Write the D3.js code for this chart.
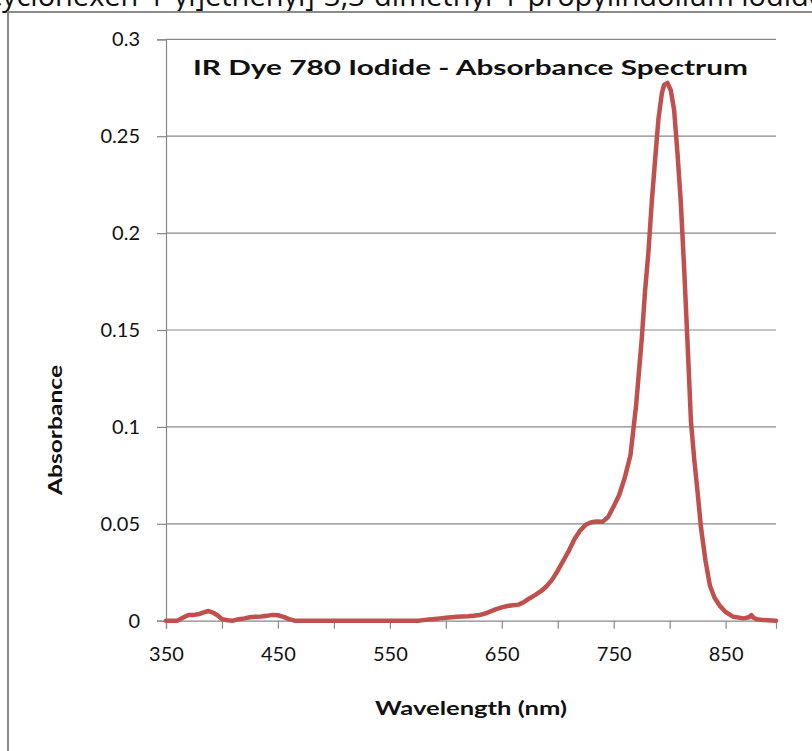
<!DOCTYPE html>
<html>
<head>
<meta charset="utf-8">
<script src="https://cdn.jsdelivr.net/npm/d3@7"></script>
<style>
  html, body { margin: 0; padding: 0; background: #fff; overflow: hidden; }
  svg { display: block; }
</style>
</head>
<body>
<svg id="chart" width="812" height="751"></svg>
<script>
// ---- data ----
const wavelengths = [350,355,360,365,370,375,380,385,388,392,396,400,405,410,415,420,425,430,435,440,445,450,455,460,465,
  480,500,520,540,560,575,580,585,590,595,600,605,610,615,620,625,630,635,640,645,650,655,660,665,670,675,680,685,690,695,
  700,705,710,715,720,725,730,735,740,745,750,755,760,765,770,775,778,781,784,787,790,793,795,798,801,804,807,810,813,816,
  819,822,825,828,832,836,840,845,850,857,866,871,873,875,878,884,895];
const absorbance = [0,0,0,0.0015,0.003,0.003,0.0035,0.0045,0.005,0.0042,0.0028,0.0008,0.0002,0,0.0008,0.0012,0.0018,0.002,0.0022,0.0025,0.003,0.0028,0.002,0.0008,0,
  0,0,0,0,0,0,0.0003,0.0006,0.0009,0.0012,0.0015,0.0018,0.002,0.0022,0.0023,0.0026,0.0029,0.0037,0.0048,0.006,0.0069,0.0076,0.008,0.0083,0.0097,0.0116,0.0133,0.0152,0.0178,0.0212,
  0.0258,0.031,0.0362,0.0422,0.0465,0.0495,0.0508,0.0512,0.051,0.0535,0.059,0.065,0.074,0.0855,0.111,0.145,0.17,0.19,0.216,0.238,0.259,0.272,0.2765,0.2775,0.2737,0.2634,0.241,0.2154,0.181,0.143,
  0.103,0.083,0.066,0.048,0.031,0.018,0.012,0.0075,0.0045,0.002,0.0012,0.0018,0.0029,0.0015,0.0007,0.0003,0];
const xTickLabels = [350,450,550,650,750,850];
const xMinorTicks = [350,400,450,500,550,600,650,700,750,800,850];
const yTickLabels = [0,0.05,0.1,0.15,0.2,0.25,0.3];
const chartTitle = "IR Dye 780 Iodide - Absorbance Spectrum";
const xTitle = "Wavelength (nm)";
const yTitle = "Absorbance";
const topCaption = "cyclohexen-1-yl]ethenyl]-3,3-dimethyl-1-propylindolium iodide";

// ---- layout ----
const svg = d3.select("#chart");
const plotLeft = 166, plotRight = 776, plotTop = 39.3, plotBottom = 620.7;
const x = d3.scaleLinear().domain([350, 895]).range([plotLeft, plotRight]);
const y = d3.scaleLinear().domain([0, 0.3]).range([plotBottom, plotTop]);
const font = "Lato, 'Open Sans', sans-serif";
const gray = "#878787";

// clipped caption line at very top (cut by the page edge, as in the reference)
svg.append("text")
  .attr("x", -12).attr("y", 6)
  .attr("font-family", "'Open Sans', sans-serif")
  .attr("font-size", 29)
  .attr("fill", "#111")
  .text(topCaption);

// chart border
svg.append("rect")
  .attr("x", 8).attr("y", 12).attr("width", 830).attr("height", 760)
  .attr("fill", "#fff").attr("stroke", "#8c8c8c").attr("stroke-width", 2);

// gridlines
svg.append("g").selectAll("line")
  .data(yTickLabels.filter(d => d > 0))
  .join("line")
  .attr("x1", plotLeft).attr("x2", plotRight)
  .attr("y1", d => y(d)).attr("y2", d => y(d))
  .attr("stroke", gray).attr("stroke-width", 1.2);

// y axis
const yAxis = d3.axisLeft(y).tickValues(yTickLabels).tickSize(9).tickPadding(17)
  .tickFormat(d => d3.format("")(+d.toFixed(2)));
const gy = svg.append("g").attr("transform", `translate(${plotLeft},0)`).call(yAxis);
gy.select(".domain").attr("stroke", gray).attr("stroke-width", 1.2);
gy.selectAll(".tick line").attr("stroke", gray).attr("stroke-width", 1.2);
gy.selectAll(".tick text").attr("font-family", font).attr("font-size", 20).attr("fill", "#111");

// x axis (ticks every 50, labels every 100)
const xAxis = d3.axisBottom(x).tickValues(xMinorTicks).tickSize(8).tickPadding(18)
  .tickFormat(d => xTickLabels.includes(d) ? d : "");
const gx = svg.append("g").attr("transform", `translate(0,${plotBottom})`).call(xAxis);
gx.select(".domain").attr("stroke", gray).attr("stroke-width", 1.2);
gx.selectAll(".tick line").attr("stroke", gray).attr("stroke-width", 1.2);
gx.selectAll(".tick text").attr("font-family", font).attr("font-size", 20).attr("fill", "#111");

// line
const data = wavelengths.map((w, i) => ({w, a: absorbance[i]}));
svg.append("path")
  .datum(data)
  .attr("fill", "none")
  .attr("stroke", "#C0504D")
  .attr("stroke-width", 4.5)
  .attr("stroke-linejoin", "round")
  .attr("stroke-linecap", "round")
  .attr("d", d3.line().x(d => x(d.w)).y(d => y(d.a)));

// titles
svg.append("text")
  .attr("x", 193).attr("y", 75)
  .attr("font-family", font).attr("font-weight", "bold").attr("font-size", 21)
  .attr("textLength", 555).attr("lengthAdjust", "spacingAndGlyphs")
  .attr("fill", "#111")
  .text(chartTitle);

svg.append("text")
  .attr("x", 375).attr("y", 715)
  .attr("font-family", font).attr("font-weight", "bold").attr("font-size", 18)
  .attr("textLength", 192).attr("lengthAdjust", "spacingAndGlyphs")
  .attr("fill", "#111")
  .text(xTitle);

svg.append("text")
  .attr("transform", "translate(62,495) rotate(-90)")
  .attr("font-family", font).attr("font-weight", "bold").attr("font-size", 18)
  .attr("textLength", 130).attr("lengthAdjust", "spacingAndGlyphs")
  .attr("fill", "#111")
  .text(yTitle);
</script>
</body>
</html>
